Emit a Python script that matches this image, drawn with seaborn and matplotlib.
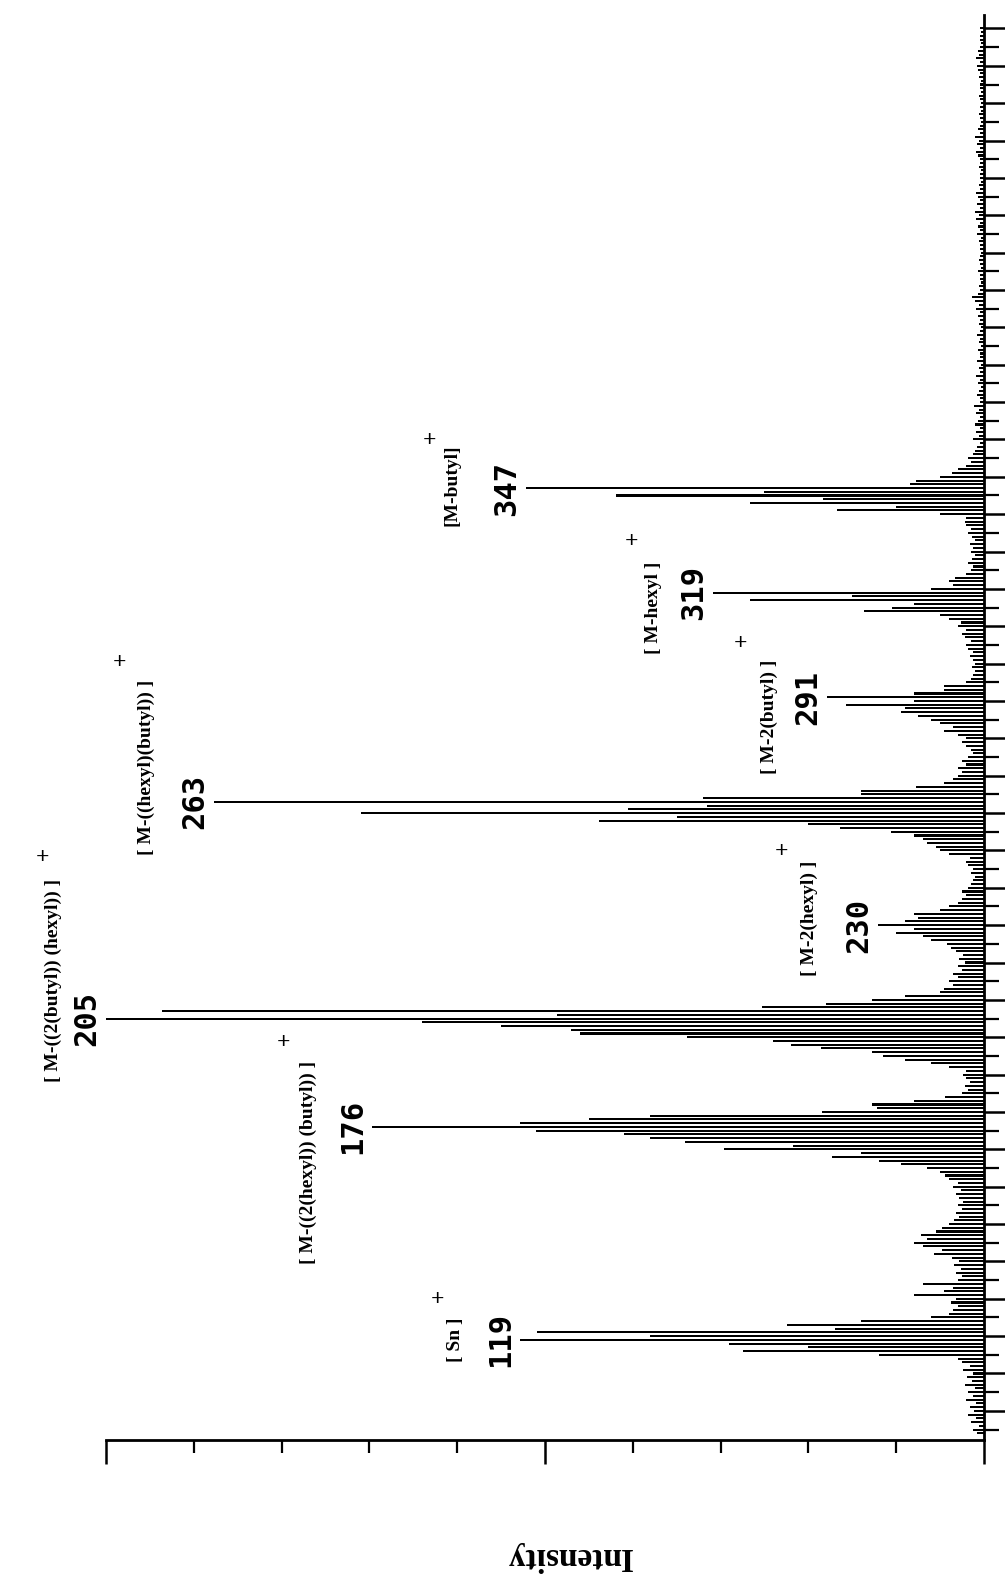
import numpy as np
import pandas as pd
import matplotlib
matplotlib.use("Agg")
import matplotlib.pyplot as plt
import seaborn as sns
from matplotlib.ticker import MultipleLocator, NullFormatter

# ---------------- data (relative intensity %, one value per integer m/z) -------------
mz_start_1 = 94   # m/z 94 .. 150
intensity_1 = [0.8, 1.2, 0.6, 1.5, 0.9, 1.8, 1.1, 1.6, 0.9, 2.0,
               1.3, 1.8, 1.0, 2.2, 1.4, 1.9, 1.2, 2.4, 1.6, 2.5,
               3.0, 12.0, 27.5, 20.0, 29.0, 52.8, 38.0, 50.9, 17.0, 22.4,
               14.0, 6.0, 4.0, 3.5, 3.0, 3.8, 3.2, 8.0, 4.5, 3.5,
               7.0, 3.0, 2.5, 3.2, 2.6, 3.4, 2.8, 3.6, 5.7, 4.8,
               7.0, 8.0, 6.5, 7.2, 5.5, 4.8, 4.0]
mz_start_2 = 151  # m/z 151 .. 210
intensity_2 = [3.4, 2.8, 3.2, 2.5, 3.0, 2.4, 2.8, 3.2, 2.6, 3.5,
               3.0, 4.0, 4.4, 5.0, 6.5, 9.5, 12.0, 17.3, 14.0, 29.6,
               21.8, 34.0, 38.0, 41.0, 51.0, 69.7, 52.8, 45.0, 38.0, 18.5,
               12.2, 12.8, 8.0, 4.4, 2.5, 1.8, 2.2, 1.6, 2.0, 2.4,
               2.0, 4.0, 6.0, 9.0, 11.5, 12.8, 18.6, 22.0, 24.0, 33.8,
               46.0, 47.0, 55.0, 64.0, 100.0, 48.6, 93.6, 25.3, 18.0, 12.8]
mz_start_3 = 211  # m/z 211 .. 270
intensity_3 = [9.0, 5.0, 4.5, 3.5, 4.0, 3.0, 3.5, 2.5, 3.0, 2.2,
               2.8, 2.4, 3.2, 3.8, 4.2, 6.0, 7.0, 10.0, 8.0, 12.1,
               9.0, 7.5, 8.0, 5.0, 4.0, 3.0, 2.5, 2.0, 2.5, 1.8,
               1.5, 1.2, 1.0, 1.5, 1.2, 1.8, 2.0, 1.6, 4.0, 5.0,
               5.5, 6.5, 7.0, 8.0, 10.6, 16.4, 20.0, 43.8, 35.0, 71.0,
               40.5, 31.5, 87.7, 32.0, 14.0, 14.0, 7.7, 4.5, 3.5, 3.0]
mz_start_4 = 271  # m/z 271 .. 357
intensity_4 = [2.5, 3.0, 2.0, 2.5, 1.8, 1.2, 1.5, 2.0, 2.5, 2.0,
               3.0, 4.5, 3.5, 5.0, 6.0, 7.5, 9.5, 9.0, 15.7, 8.0,
               17.9, 8.0, 4.5, 4.5, 2.0, 1.5, 1.2, 1.0, 1.4, 1.0,
               1.3, 1.6, 1.2, 1.8, 2.0, 1.5, 2.2, 2.5, 2.0, 3.0,
               2.6, 4.0, 5.0, 13.7, 10.5, 8.0, 26.7, 15.0, 30.9, 6.0,
               3.5, 4.0, 3.3, 2.0, 1.5, 1.2, 1.8, 1.4, 1.0, 1.5,
               1.2, 1.6, 1.0, 1.4, 1.8, 1.5, 2.0, 2.2, 2.0, 5.0,
               16.7, 10.0, 26.7, 18.3, 41.9, 25.0, 52.2, 8.4, 7.8, 5.0,
               3.7, 3.0, 2.0, 1.5, 1.8, 1.2, 1.0]
mz_start_5 = 358  # m/z 358 .. 470
intensity_5 = [0.8, 0.5, 1.2, 0.6, 0.9, 0.4, 1.0, 0.7, 0.5, 0.9, 0.6, 1.1, 0.5,
               0.4, 0.8, 0.6, 0.3, 0.7, 0.5, 0.9, 0.4, 0.6, 0.3, 0.8, 0.5, 0.4,
               0.7, 0.3, 0.6, 0.5, 0.8, 0.4, 0.3, 0.6, 0.5, 0.7, 0.4, 0.9, 0.6,
               1.0, 1.4, 0.7, 0.4, 0.6, 0.3, 0.5, 0.4, 0.7, 0.3, 0.5, 0.6, 0.4,
               0.3, 0.5, 0.4, 0.6, 0.3, 0.8, 0.5, 0.7, 0.4, 0.9, 0.6, 1.0, 0.5,
               0.8, 0.4, 0.7, 0.9, 0.5, 0.6, 0.3, 0.5, 0.4, 0.3, 0.6, 0.4, 0.5,
               0.7, 0.9, 0.5, 0.8, 0.6, 1.0, 0.4, 0.7, 0.5, 0.3, 0.4, 0.6, 0.3,
               0.4, 0.3, 0.5, 0.6, 0.3, 0.4, 0.5, 0.3, 0.6, 0.4, 0.7, 0.8, 0.5,
               0.9, 0.6, 0.7, 0.4, 0.3, 0.5, 0.4, 0.3, 0.4]

# labelled peaks
peak_mz = [119, 176, 205, 230, 263, 291, 319, 347]
peak_text = ["119", "176", "205", "230", "263", "291", "319", "347"]
ion_labels = ["[ Sn ]", "[ M-((2(hexyl)) (butyl)) ]", "[ M-((2(butyl)) (hexyl)) ]",
              "[ M-2(hexyl) ]", "[ M-((hexyl)(butyl)) ]", "[ M-2(butyl) ]",
              "[ M-hexyl ]", "[M-butyl]"]
# label anchor positions (intensity %, m/z)
ion_label_int = [60.2, 77.0, 106.0, 19.9, 95.4, 24.4, 37.6, 60.6]
ion_label_mz = [119.0, 166.6, 215.3, 231.9, 272.1, 285.7, 314.9, 347.8]
plus_int = [62.2, 79.8, 107.2, 23.1, 98.5, 27.7, 40.1, 63.1]
plus_mz = [129.7, 198.5, 248.2, 249.6, 300.4, 305.5, 332.8, 359.8]

# ---------------- build table ----------------
segments = [(mz_start_1, intensity_1), (mz_start_2, intensity_2), (mz_start_3, intensity_3),
            (mz_start_4, intensity_4), (mz_start_5, intensity_5)]
mz_all, int_all = [], []
for start, vals in segments:
    mz_all.extend(range(start, start + len(vals)))
    int_all.extend(vals)
df = pd.DataFrame({"mz": mz_all, "intensity": int_all})

# ---------------- plot ----------------
sns.set_theme(style="ticks")
plt.rcParams["font.family"] = ["DejaVu Sans"]

fig = plt.figure(figsize=(10.05, 15.85), dpi=100)
ax = fig.add_axes([0.10547, 0.09148, 0.87363, 0.89905])

sns.barplot(data=df, x="intensity", y="mz", orient="y", native_scale=True,
            width=0.55, color="black", saturation=1, errorbar=None,
            linewidth=0, ax=ax)

ax.set_xlim(100, 0)
ax.set_ylim(92.2, 473.6)
ax.set_xlabel("")
ax.set_ylabel("")

for s in ["left", "top"]:
    ax.spines[s].set_visible(False)
for s in ["right", "bottom"]:
    ax.spines[s].set_visible(True)
    ax.spines[s].set_linewidth(2.0)
    ax.spines[s].set_color("black")

ax.yaxis.tick_right()
ax.yaxis.set_major_locator(MultipleLocator(10))
ax.yaxis.set_minor_locator(MultipleLocator(5))
ax.xaxis.set_major_locator(MultipleLocator(50))
ax.xaxis.set_minor_locator(MultipleLocator(10))
ax.xaxis.set_major_formatter(NullFormatter())
ax.yaxis.set_major_formatter(NullFormatter())
ax.tick_params(axis="y", which="major", direction="out", length=18, width=1.8, color="black",
               right=True, left=False)
ax.tick_params(axis="y", which="minor", direction="out", length=11, width=1.6, color="black",
               right=True, left=False)
ax.tick_params(axis="x", which="major", direction="out", length=17, width=1.8, color="black")
ax.tick_params(axis="x", which="minor", direction="out", length=9, width=1.6, color="black")
ax.grid(False)

peak_lookup = dict(zip(df["mz"], df["intensity"]))
for mz, txt in zip(peak_mz, peak_text):
    ax.text(peak_lookup[mz] + 2.2, mz, txt, rotation=90, ha="center", va="center",
            fontsize=22, fontweight="bold", family=["DejaVu Sans Mono"], color="black",
            clip_on=False)

for lab, xi, yi in zip(ion_labels, ion_label_int, ion_label_mz):
    ax.text(xi, yi, lab, rotation=90, ha="center", va="center", fontsize=14,
            fontweight="bold", family=["Liberation Serif"], color="black", clip_on=False)

for xi, yi in zip(plus_int, plus_mz):
    ax.text(xi, yi, "+", ha="center", va="center", fontsize=17, fontweight="bold",
            family=["Liberation Serif"], color="black", clip_on=False)

fig.text(0.566, 0.0177, "Intensity", rotation=180, ha="center", va="center",
         fontsize=24, fontweight="bold", family=["Liberation Serif"], color="black")

fig.savefig("out.png", dpi=100, facecolor="white")
